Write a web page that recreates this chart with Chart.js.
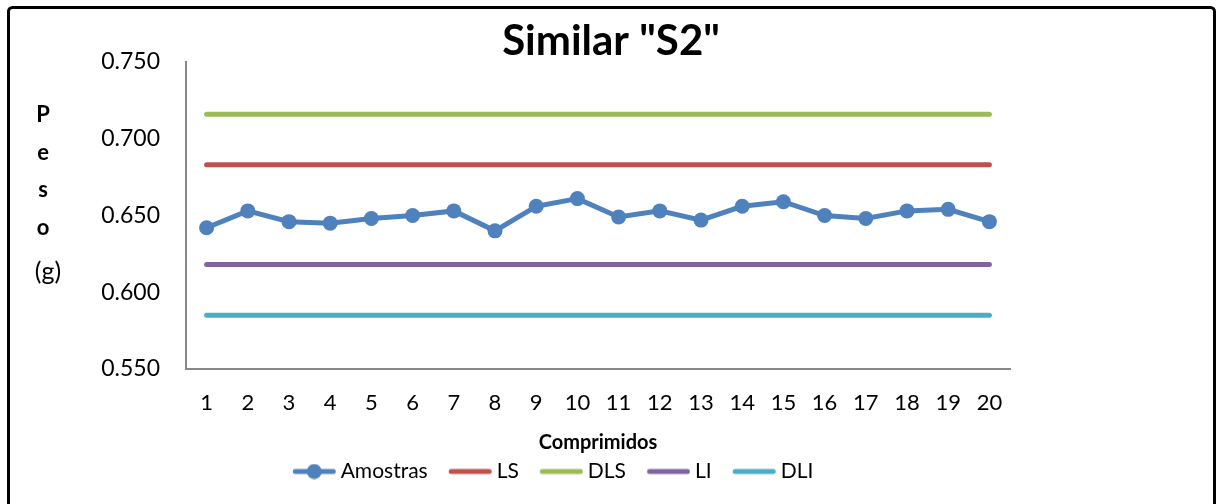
<!DOCTYPE html>
<html>
<head>
<meta charset="utf-8">
<script src="https://cdn.jsdelivr.net/npm/chart.js@4"></script>
<style>
  html, body { margin: 0; padding: 0; background: #fff; }
  #grafico { display: block; }
</style>
</head>
<body>
<canvas id="grafico" width="1218" height="504"></canvas>
<script>
const comprimidos = ['1', '2', '3', '4', '5', '6', '7', '8', '9', '10',
    '11', '12', '13', '14', '15', '16', '17', '18', '19', '20'];
const amostras = [0.642, 0.653, 0.646, 0.645, 0.648, 0.650, 0.653, 0.640, 0.656, 0.661,
    0.649, 0.653, 0.647, 0.656, 0.659, 0.650, 0.648, 0.653, 0.654, 0.646];
const limiteLS = 0.683;
const limiteDLS = 0.716;
const limiteLI = 0.618;
const limiteDLI = 0.585;
const ticksPeso = [0.550, 0.600, 0.650, 0.700, 0.750];

document.addEventListener('DOMContentLoaded', () => {
    const cores = {
        amostras: '#4F81BD',
        ls: '#C0504D',
        dls: '#9BBB59',
        li: '#8064A2',
        dli: '#4BACC6'
    };
    const fonte = 'Lato, "Open Sans", sans-serif';
    Chart.defaults.font.family = fonte;
    Chart.defaults.color = '#000';

    // amostra da legenda: linha grossa (e marcador para Amostras)
    const iconeLegenda = (cor, comPonto) => {
        const c = document.createElement('canvas');
        c.width = 64;
        c.height = 16;
        const g = c.getContext('2d');
        g.strokeStyle = cor;
        g.lineWidth = 5;
        g.lineCap = 'round';
        g.beginPath();
        g.moveTo(23.25, 8);
        g.lineTo(61.25, 8);
        g.stroke();
        if (comPonto) {
            g.fillStyle = cor;
            g.beginPath();
            g.arc(42.25, 8, 7.5, 0, Math.PI * 2);
            g.fill();
        }
        return c;
    };

    const linhaLimite = (label, valor, cor) => ({
        label: label,
        data: comprimidos.map(() => valor),
        borderColor: cor,
        backgroundColor: cor,
        borderWidth: 5,
        borderCapStyle: 'round',
        pointRadius: 0,
        pointHoverRadius: 0,
        tension: 0,
        icone: iconeLegenda(cor, false)
    });

    // moldura, titulo e rotulo vertical do eixo Y
    const extras = {
        id: 'extras',
        beforeDraw(chart) {
            const ctx = chart.ctx;
            ctx.save();
            ctx.fillStyle = '#fff';
            ctx.fillRect(0, 0, chart.width, chart.height);
            ctx.restore();
        },
        afterDraw(chart) {
            const ctx = chart.ctx;
            ctx.save();
            ctx.strokeStyle = '#000';
            ctx.lineWidth = 3;
            ctx.beginPath();
            ctx.roundRect(8.5, 7.5, 1206, 530, 4);
            ctx.stroke();

            ctx.fillStyle = '#000';
            ctx.textAlign = 'center';
            ctx.textBaseline = 'alphabetic';
            ctx.font = 'bold 42px ' + fonte;
            ctx.fillText('Similar "S2"', 611, 55);

            ctx.font = 'bold 22px ' + fonte;
            [['P', 122], ['e', 160], ['s', 197], ['o', 235]].forEach(([t, y]) => {
                ctx.fillText(t, 43, y);
            });
            ctx.font = '25px ' + fonte;
            ctx.fillText('(g)', 48, 280);
            ctx.restore();
        }
    };

    const ctxPeso = document.getElementById('grafico').getContext('2d');
    const graficoPeso = new Chart(ctxPeso, {
        type: 'line',
        data: {
            labels: comprimidos,
            datasets: [
                {
                    label: 'Amostras',
                    data: amostras,
                    borderColor: cores.amostras,
                    backgroundColor: cores.amostras,
                    borderWidth: 5,
                    pointRadius: 7.5,
                    pointBackgroundColor: cores.amostras,
                    pointBorderColor: cores.amostras,
                    pointBorderWidth: 0,
                    tension: 0,
                    icone: iconeLegenda(cores.amostras, true)
                },
                linhaLimite('LS', limiteLS, cores.ls),
                linhaLimite('DLS', limiteDLS, cores.dls),
                linhaLimite('LI', limiteLI, cores.li),
                linhaLimite('DLI', limiteDLI, cores.dli)
            ]
        },
        options: {
            responsive: false,
            animation: false,
            layout: {
                padding: { top: 62, left: 81, right: 208, bottom: 12 }
            },
            scales: {
                x: {
                    offset: true,
                    grid: { display: false, drawTicks: false },
                    border: { display: true, color: '#888', width: 2 },
                    ticks: { padding: 21, font: { size: 22 }, maxRotation: 0, autoSkip: false },
                    title: {
                        display: true,
                        text: 'Comprimidos',
                        font: { size: 20, weight: 'bold' },
                        padding: { top: 0, bottom: 0 }
                    },
                    afterFit: (scale) => { scale.height = 86; }
                },
                y: {
                    min: ticksPeso[0],
                    max: ticksPeso[ticksPeso.length - 1],
                    grid: { display: false, drawTicks: false },
                    border: { display: true, color: '#888', width: 2 },
                    afterBuildTicks: (scale) => {
                        scale.ticks = ticksPeso.map(v => ({ value: v }));
                    },
                    ticks: {
                        padding: 26,
                        font: { size: 23 },
                        callback: v => Number(v).toFixed(3)
                    },
                    afterFit: (scale) => { scale.width = 105; }
                }
            },
            plugins: {
                title: { display: false },
                tooltip: { enabled: false },
                legend: {
                    display: true,
                    position: 'bottom',
                    labels: {
                        usePointStyle: true,
                        pointStyleWidth: 52.5,
                        padding: 6,
                        font: { size: 21 },
                        color: '#000',
                        generateLabels: (chart) => chart.data.datasets.map((ds, i) => ({
                            text: ds.label,
                            pointStyle: ds.icone,
                            fillStyle: ds.borderColor,
                            strokeStyle: ds.borderColor,
                            lineWidth: 0,
                            hidden: false,
                            datasetIndex: i
                        }))
                    }
                }
            }
        },
        plugins: [extras]
    });
});
</script>
</body>
</html>
